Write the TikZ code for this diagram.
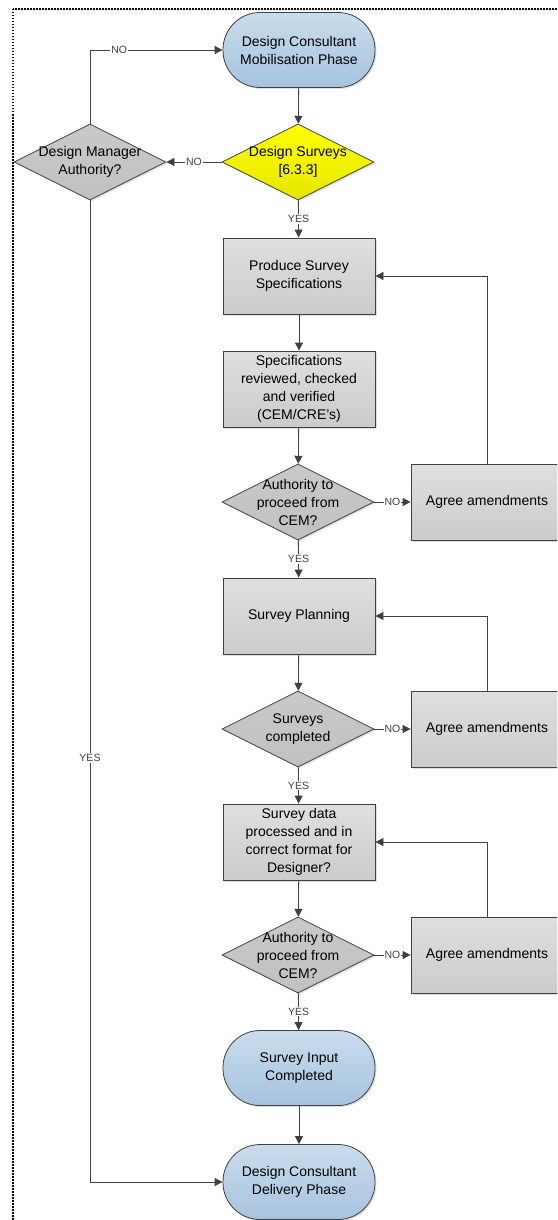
\documentclass[tikz,border=0pt]{standalone}
\usepackage{fontspec}
\setmainfont{Liberation Sans}
\usetikzlibrary{shapes.geometric, arrows.meta, shadows}

\definecolor{termtop}{HTML}{C9DCEC}
\definecolor{termbot}{HTML}{A6C3DE}
\definecolor{boxtop}{HTML}{DFDFDF}
\definecolor{boxbot}{HTML}{CBCBCB}
\definecolor{linegray}{HTML}{404040}

\begin{document}
\begin{tikzpicture}[x=1pt, y=-1pt, font=\fontsize{14}{18}\selectfont,
    shade/.style={drop shadow={opacity=0.25, shadow xshift=1.5pt, shadow yshift=-1.5pt}},
    terminal/.style={rectangle, rounded corners=37pt, draw=linegray, thick, minimum width=152pt, minimum height=75pt, top color=termtop, bottom color=termbot, align=center, shade},
    process/.style={rectangle, draw=linegray, thick, minimum width=152pt, minimum height=76pt, top color=boxtop, bottom color=boxbot, align=center, shade},
    decision/.style={diamond, draw=linegray, thick, minimum width=152pt, minimum height=76pt, inner sep=0pt, top color=boxtop!90!black, bottom color=boxbot!95!black, shade},
    yesno/.style={decision, top color=yellow, bottom color=yellow!90!black},
    lbl/.style={fill=white, inner sep=1pt, font=\fontsize{10.5}{12}\selectfont},
    arr/.style={-{Triangle[length=8pt, width=8pt]}, linegray, thick}]
    \clip (0,0) rectangle (557,1220);
    \draw[line width=1.5pt, dash pattern=on 1.5pt off 1.5pt] (13,9) rectangle (600,1260);

    \node[terminal] (mob) at (299,50) {Design Consultant\\Mobilisation Phase};
    \node[yesno, label={[align=center]center:Design Surveys\\{[6.3.3]}}] (surv) at (298,162) {};
    \node[decision, label={[align=center]center:Design Manager\\Authority?}] (dma) at (90,162) {};
    \node[process] (prod) at (299,276) {Produce Survey\\Specifications};
    \node[process] (rev) at (299,389) {Specifications\\reviewed, checked\\and verified\\(CEM/CRE's)};
    \node[decision, label={[align=center]center:Authority to\\proceed from\\CEM?}] (auth1) at (298,502) {};
    \node[process] (amend1) at (487,502) {Agree amendments};
    \node[process] (plan) at (299,616) {Survey Planning};
    \node[decision, label={[align=center]center:Surveys\\completed}] (comp) at (298,729) {};
    \node[process] (amend2) at (487,729) {Agree amendments};
    \node[process] (data) at (299,842) {Survey data\\processed and in\\correct format for\\Designer?};
    \node[decision, label={[align=center]center:Authority to\\proceed from\\CEM?}] (auth2) at (298,955) {};
    \node[process] (amend3) at (487,955) {Agree amendments};
    \node[terminal] (input) at (299,1068) {Survey Input\\Completed};
    \node[terminal] (deliv) at (299,1182) {Design Consultant\\Delivery Phase};

    \draw[arr] (mob) -- (surv);
    \draw[arr] (surv) -- node[lbl] {NO} (dma);
    \draw[arr] (dma.north) |- node[lbl, pos=0.61] {NO} (mob.west);
    \draw[arr] (surv) -- node[lbl] {YES} (prod);
    \draw[arr] (prod) -- (rev);
    \draw[arr] (rev) -- (auth1);
    \draw[arr] (auth1) -- node[lbl] {NO} (amend1);
    \draw[arr] (amend1.north) |- (prod.east);
    \draw[arr] (auth1) -- node[lbl] {YES} (plan);
    \draw[arr] (plan) -- (comp);
    \draw[arr] (comp) -- node[lbl] {NO} (amend2);
    \draw[arr] (amend2.north) |- (plan.east);
    \draw[arr] (comp) -- node[lbl] {YES} (data);
    \draw[arr] (data) -- (auth2);
    \draw[arr] (auth2) -- node[lbl] {NO} (amend3);
    \draw[arr] (amend3.north) |- (data.east);
    \draw[arr] (auth2) -- node[lbl] {YES} (input);
    \draw[arr] (input) -- (deliv);
    \draw[arr] (dma.south) |- node[lbl, pos=0.284] {YES} (deliv.west);
\end{tikzpicture}
\end{document}
